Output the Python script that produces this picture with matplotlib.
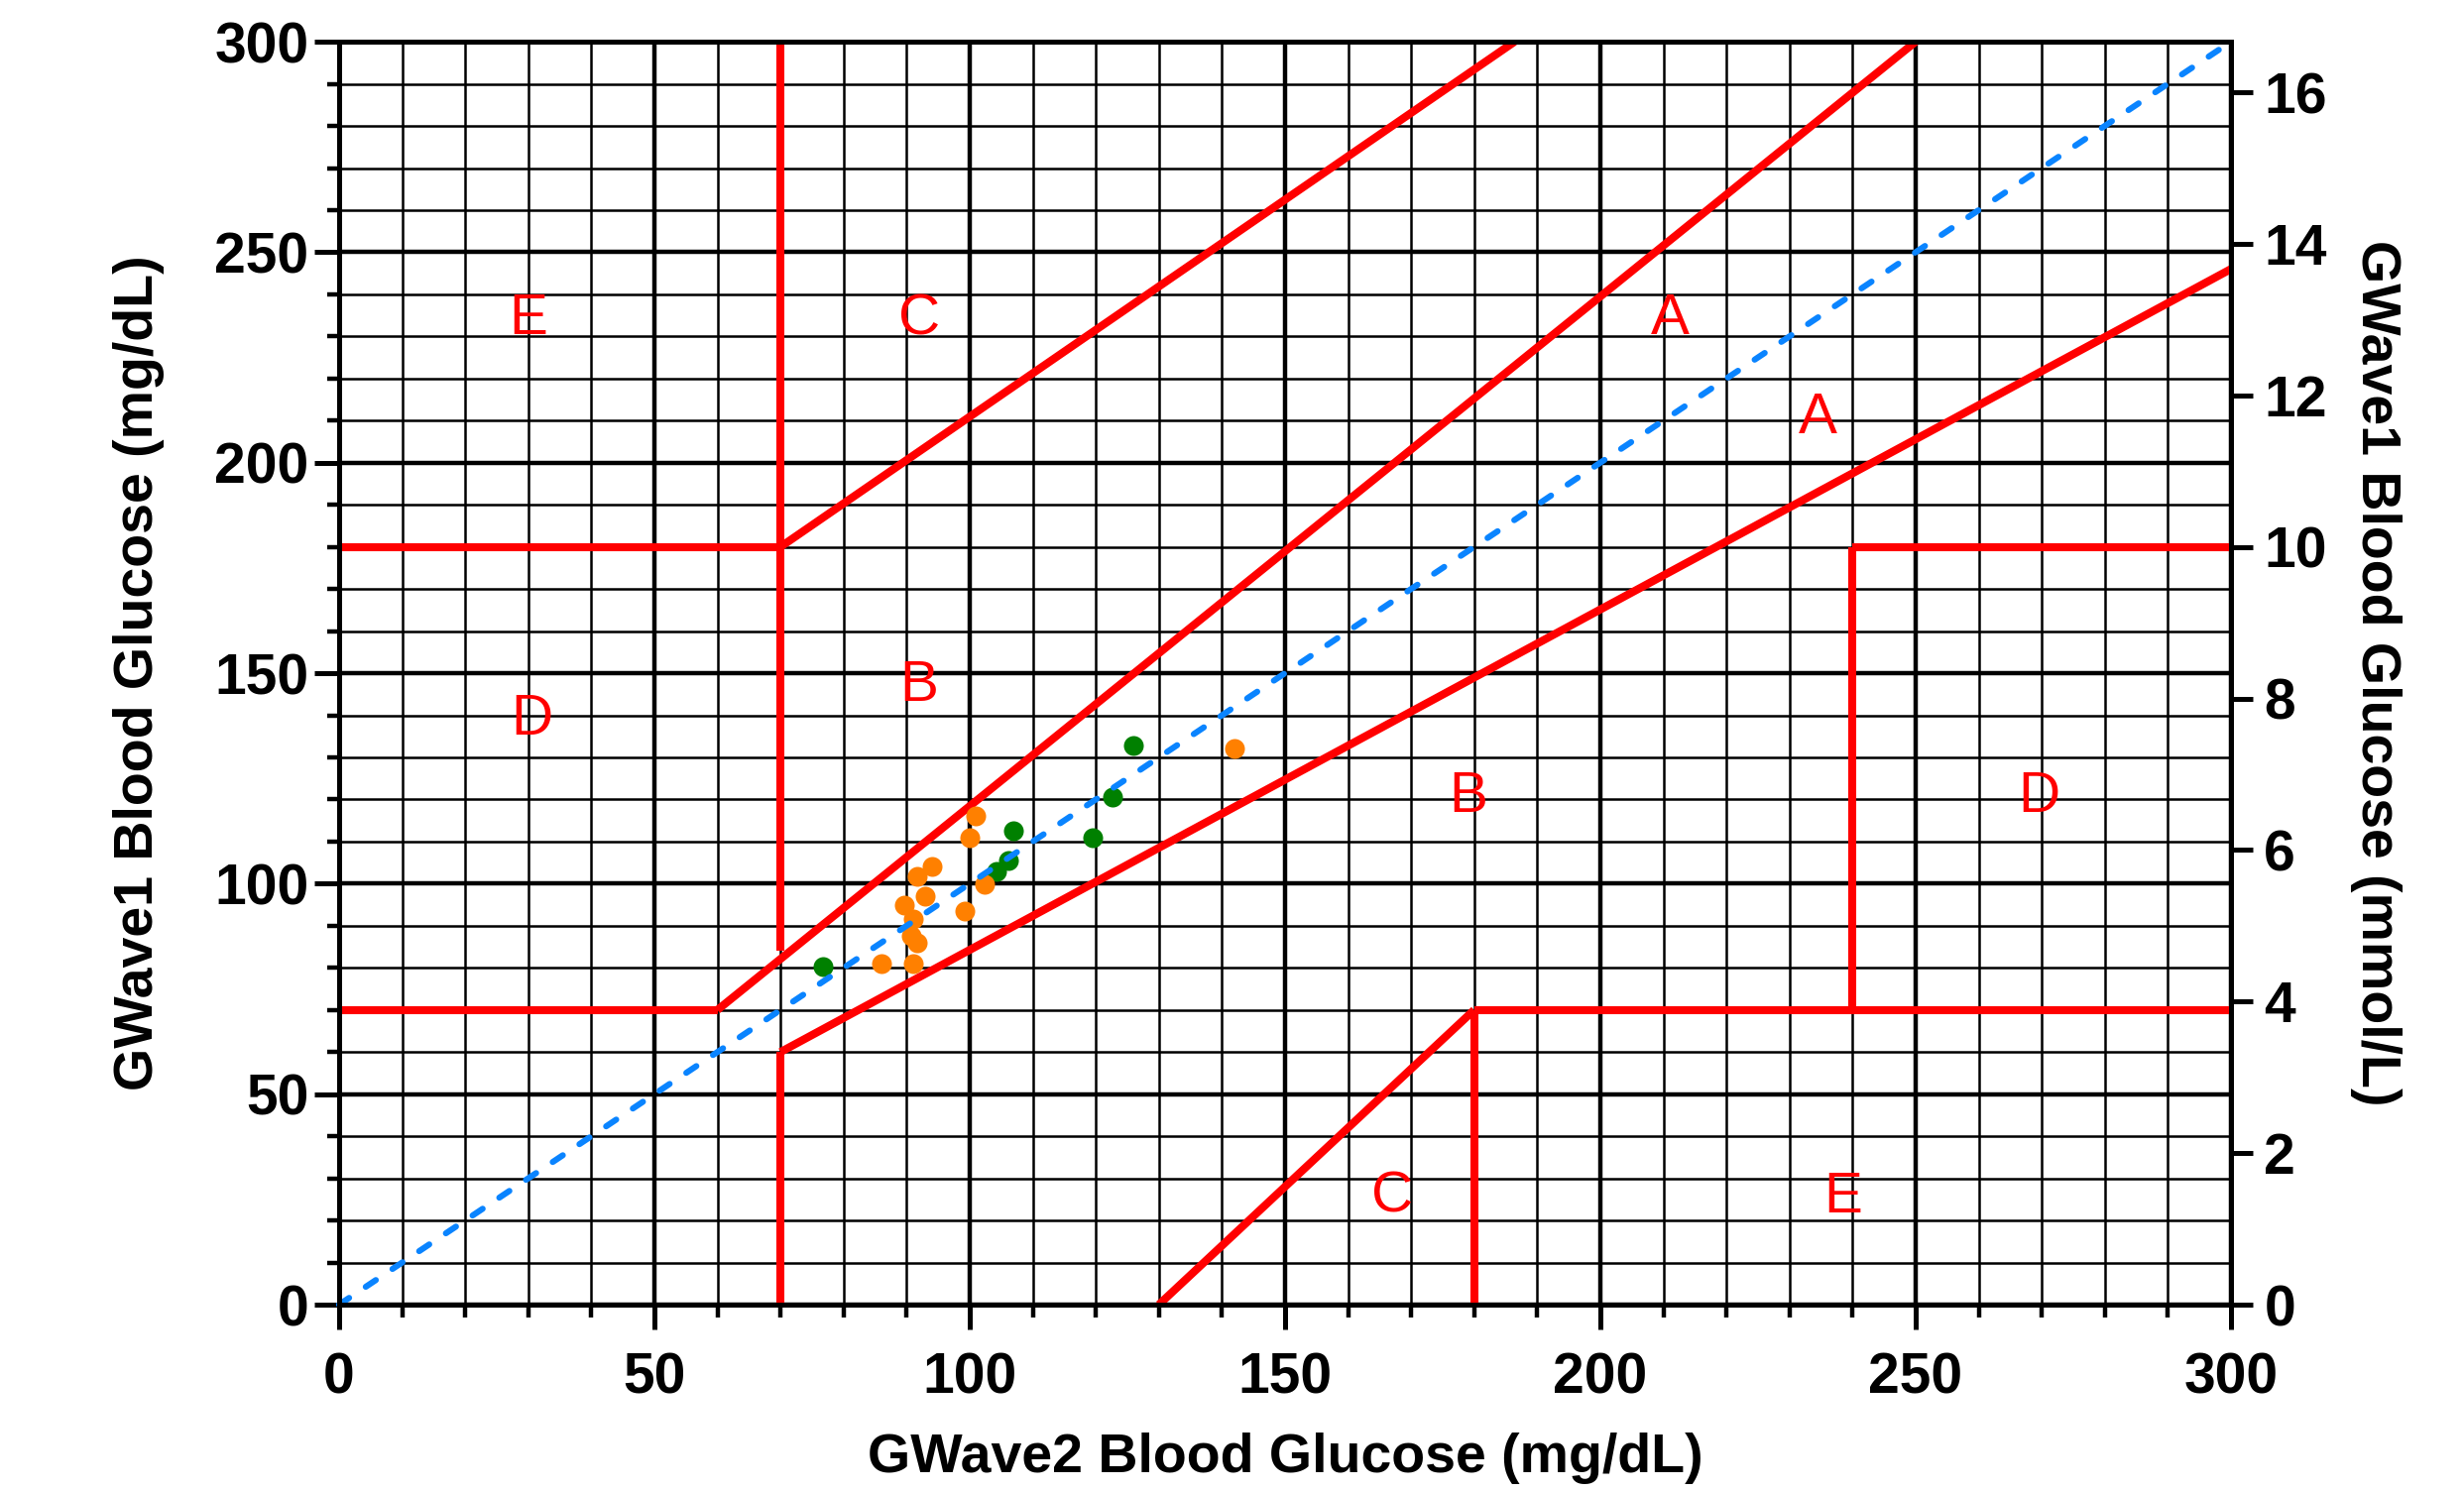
import matplotlib
matplotlib.use("Agg")
import matplotlib.pyplot as plt
from matplotlib.ticker import MultipleLocator

plt.rcParams['font.family'] = ['Liberation Sans', 'DejaVu Sans']

# GWave2 (x) vs GWave1 (y) readings, mg/dL
green_x = [76.8, 126.0, 122.7, 107.0, 119.5, 106.1, 104.3]
green_y = [80.4, 132.9, 120.6, 112.6, 110.9, 105.6, 102.9]

orange_x = [142.0, 101.0, 100.0, 94.0, 91.7, 93.0, 89.7, 102.3, 99.3,
            91.0, 90.8, 91.6, 86.0, 91.0]
orange_y = [132.0, 116.2, 110.9, 104.0, 101.7, 97.0, 95.0, 99.9, 93.6,
            91.7, 87.6, 86.0, 81.1, 81.1]

# Clarke error grid zone boundaries: (x0, x1), (y0, y1)
zone_lines = [
    ((0, 60), (70, 70)),
    ((60, 250), (70, 300)),
    ((70, 70), (84, 300)),
    ((0, 70), (180, 180)),
    ((70, 186.4), (180, 300)),
    ((70, 70), (0, 60)),
    ((70, 300), (60, 246)),
    ((180, 180), (0, 70)),
    ((180, 300), (70, 70)),
    ((240, 240), (70, 180)),
    ((240, 300), (180, 180)),
    ((130, 180), (0, 70)),
]

zone_labels = ["E", "C", "A", "A", "D", "B", "B", "D", "C", "E"]
label_x = [30, 92, 211, 234.5, 30.5, 92, 179, 269.5, 167, 238.5]
label_y = [234, 234, 234, 210.5, 139, 147, 120.5, 120.5, 25.5, 25.5]

fig = plt.figure(figsize=(12.425, 7.52), dpi=200)
ax = fig.add_axes([0.1376, 0.125, 0.9054 - 0.1376, 0.972 - 0.125])

ax.set_xlim(0, 300)
ax.set_ylim(0, 300)
ax.xaxis.set_major_locator(MultipleLocator(50))
ax.yaxis.set_major_locator(MultipleLocator(50))
ax.xaxis.set_minor_locator(MultipleLocator(10))
ax.yaxis.set_minor_locator(MultipleLocator(10))
ax.set_axisbelow(True)
ax.grid(which="major", color="black", lw=1.6)
ax.grid(which="minor", color="black", lw=0.9)

for xs, ys in zone_lines:
    ax.plot(xs, ys, color="#ff0000", lw=2.9, solid_capstyle="butt", zorder=3)

ax.scatter(green_x, green_y, s=52, color="#008000", zorder=4, linewidths=0)
ax.scatter(orange_x, orange_y, s=52, color="#ff8000", zorder=4, linewidths=0)

ax.plot([0, 300], [0, 300], color="#0a84ff", lw=2.2, dashes=(2.0, 3.3),
        dash_capstyle="round", zorder=5, clip_on=False)

for t, lx, ly in zip(zone_labels, label_x, label_y):
    ax.text(lx, ly, t, color="#ff0000", fontsize=21, ha="center", va="center", zorder=6)

for sp in ax.spines.values():
    sp.set_linewidth(1.8)
    sp.set_zorder(7)

ax.tick_params(which="major", direction="out", length=9, width=1.8, labelsize=20.5, pad=2)
ax.tick_params(axis="x", which="major", pad=8)
ax.tick_params(which="minor", direction="out", length=4.5, width=1.6)
for lab in ax.get_xticklabels() + ax.get_yticklabels():
    lab.set_fontweight("bold")

ax.set_xlabel("GWave2 Blood Glucose (mg/dL)", fontsize=20, fontweight="bold", labelpad=10)
ax.set_ylabel("GWave1 Blood Glucose (mg/dL)", fontsize=20, fontweight="bold", labelpad=18)

ax2 = ax.twinx()
ax2.set_ylim(0, 300 / 18.0)
ax2.set_yticks(range(0, 17, 2))
ax2.tick_params(direction="out", length=8, width=1.8, labelsize=20.5, pad=4)
for lab in ax2.get_yticklabels():
    lab.set_fontweight("bold")
for sp in ax2.spines.values():
    sp.set_linewidth(1.8)
ax2.set_ylabel("GWave1 Blood Glucose (mmol/L)", fontsize=20, fontweight="bold",
               rotation=270, labelpad=27)

fig.savefig("out.png", dpi=200)
